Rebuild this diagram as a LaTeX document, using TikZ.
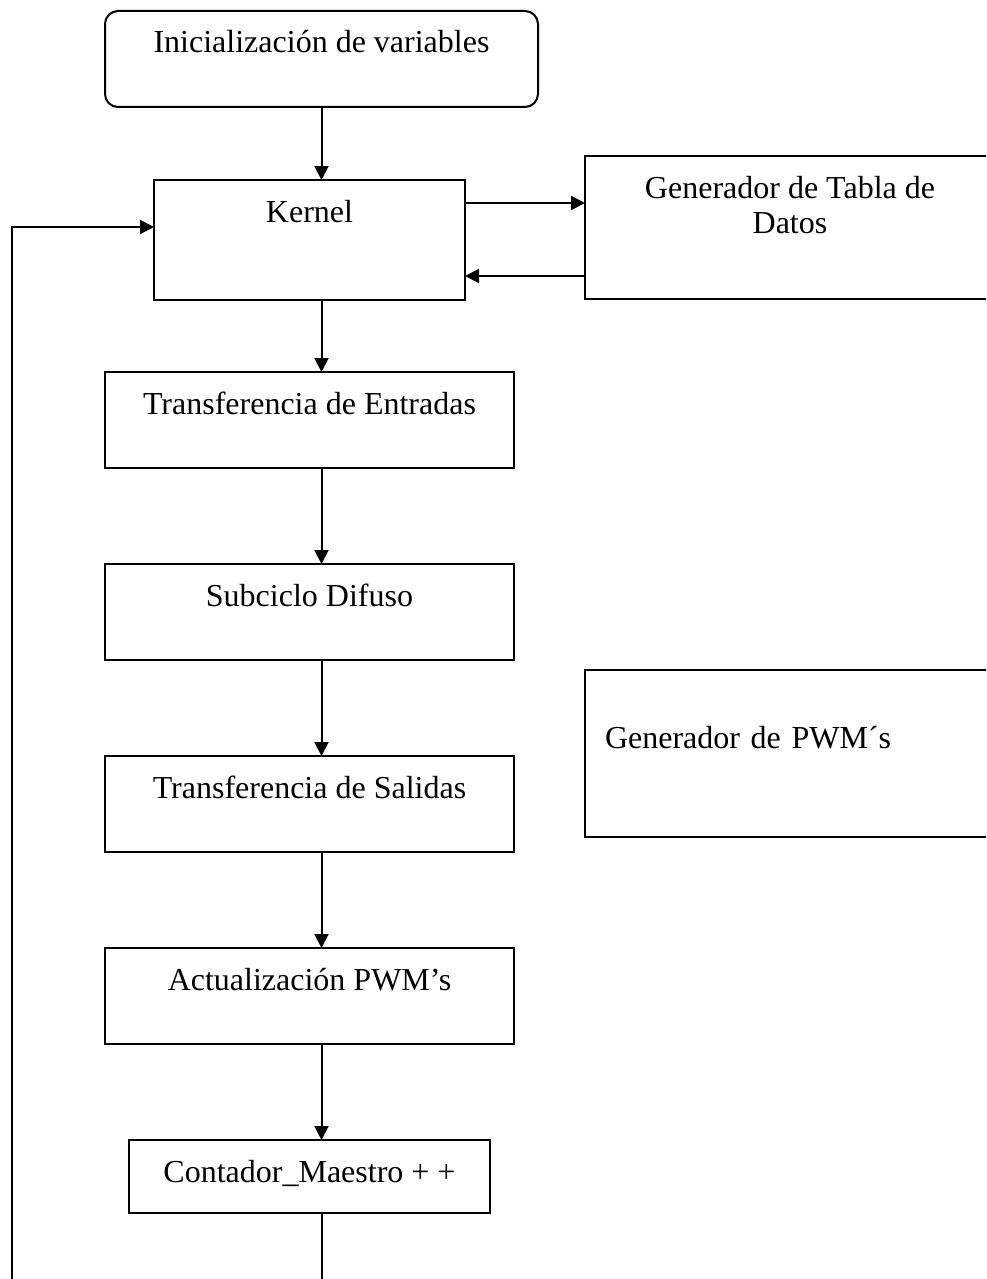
\documentclass[tikz,border=0pt]{standalone}
\usepackage{fontspec}
\setmainfont{Liberation Serif}
\usetikzlibrary{arrows.meta}
\begin{document}
\begin{tikzpicture}[x=1pt,y=-1pt,
  every node/.style={font=\fontsize{32}{35}\selectfont, inner sep=0pt, outer sep=0pt},
  box/.style={draw, line width=2pt, anchor=north west, text height=42pt},
  flow/.style={line width=2pt, -{Triangle[length=14pt,width=14pt]}},
  link/.style={line width=2pt}]
\useasboundingbox (0,0) rectangle (986,1279);
\clip (0,0) rectangle (986,1279);

% main column
\node[box, rounded corners=13pt, minimum width=433pt, text depth=54pt]
  (init) at (105,11) {Inicialización de variables};
\node[box, minimum width=311pt, text depth=78pt]
  (kernel) at (154,180) {Kernel};
\node[box, minimum width=409pt, text depth=54pt]
  (entradas) at (105,372) {Transferencia de Entradas};
\node[box, minimum width=409pt, text depth=54pt]
  (subciclo) at (105,564) {Subciclo Difuso};
\node[box, minimum width=409pt, text depth=54pt]
  (salidas) at (105,756) {Transferencia de Salidas};
\node[box, minimum width=409pt, text depth=54pt]
  (pwm) at (105,948) {Actualización PWM’s};
\node[box, minimum width=361pt, text depth=31pt]
  (contador) at (129,1140) {Contador\_Maestro + +};

% side blocks
\node[box, minimum width=410pt, text depth=101pt]
  (tabla) at (585,156)
  {\begin{tabular}[t]{@{}c@{}}Generador de Tabla de\\Datos\end{tabular}};
\node[box, text width=395pt, align=left, inner xsep=20pt,
      text height=78pt, text depth=89pt]
  (genpwm) at (585,670) {Generador de PWM´s};

% vertical axis of the flow
\coordinate (axis) at (321.5,0);
\draw[flow] (init.south -| axis) -- (kernel.north -| axis);
\draw[flow] (kernel.south -| axis) -- (entradas.north -| axis);
\draw[flow] (entradas.south -| axis) -- (subciclo.north -| axis);
\draw[flow] (subciclo.south -| axis) -- (salidas.north -| axis);
\draw[flow] (salidas.south -| axis) -- (pwm.north -| axis);
\draw[flow] (pwm.south -| axis) -- (contador.north -| axis);

% exchange with the table generator
\coordinate (kout) at ([yshift=37pt]kernel.east);
\coordinate (kin) at ([yshift=-36pt]kernel.east);
\draw[flow] (kout) -- (kout -| tabla.west);
\draw[flow] (kin -| tabla.west) -- (kin);

% loop back to the kernel
\coordinate (bend) at (12,1300);
\coordinate (corner) at (12,227);
\draw[flow] (contador.south -| axis) |- (bend) |- (kernel.west |- corner);
\end{tikzpicture}
\end{document}
